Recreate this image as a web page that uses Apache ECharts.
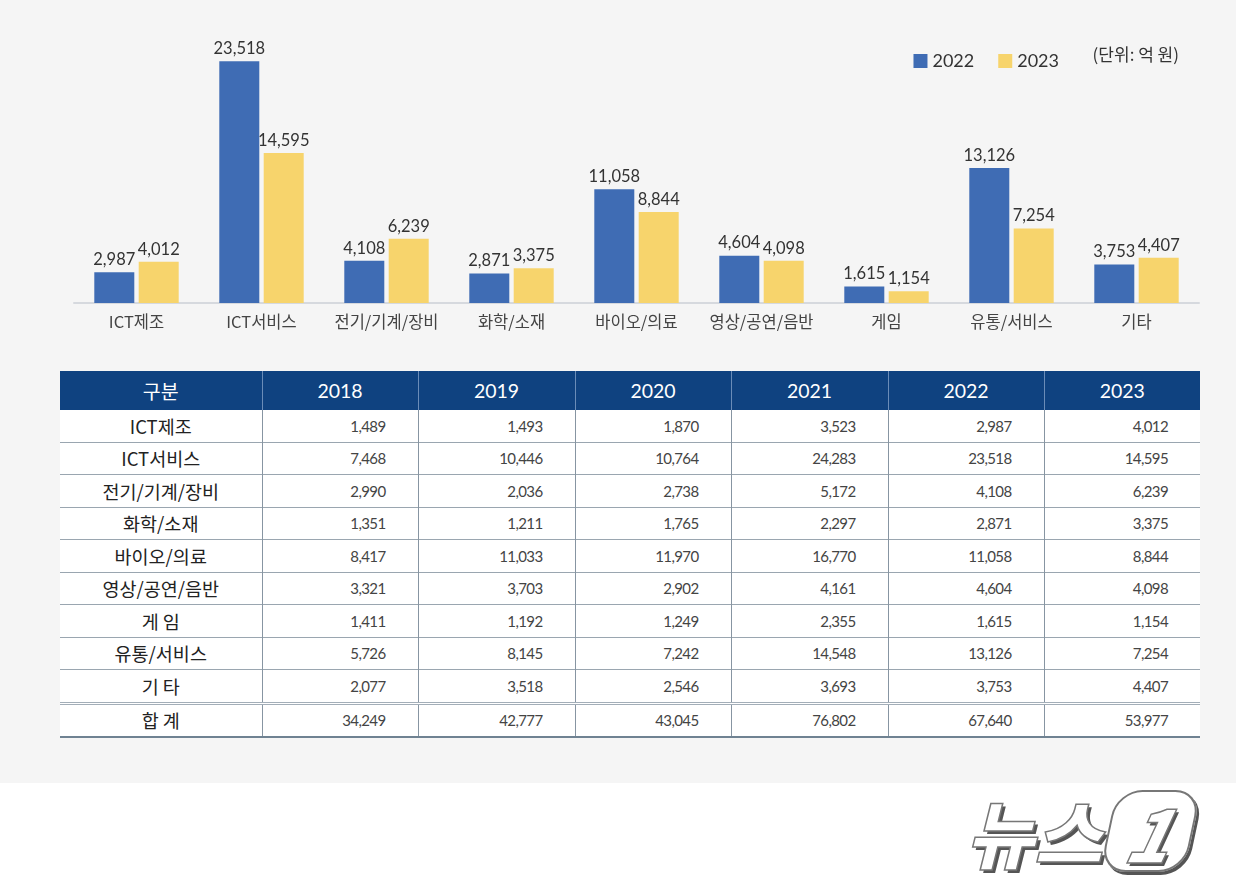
<!DOCTYPE html>
<html><head><meta charset="utf-8">
<script src="https://cdn.jsdelivr.net/npm/echarts@6/dist/echarts.min.js"></script>
<style>
html,body{margin:0;padding:0;width:1236px;height:896px;background:#fff;overflow:hidden;font-family:Lato,"Noto Sans CJK KR",sans-serif;}
#bg{position:absolute;left:0;top:0;width:1236px;height:783px;background:#f5f5f5;}
#chart{position:absolute;left:0;top:0;width:1236px;height:360px;}
#tbl{position:absolute;left:60px;top:371px;width:1140px;border-collapse:collapse;table-layout:fixed;}
#tbl th{background:#0f4280;color:#fff;font-weight:normal;font-size:19.5px;height:39px;padding:0;border-left:1px solid #6a8cb8;font-family:Lato,"Noto Sans CJK KR",sans-serif;}
#tbl th:first-child{border-left:none;}
#tbl td{background:#fff;height:31.5px;padding:0;border-top:1px solid #9aa6b0;border-left:1px solid #8795a2;font-size:15px;color:#444;text-align:right;padding-right:32px;letter-spacing:-0.6px;font-family:Lato,sans-serif;}
#tbl td.c{text-align:center;padding-right:0;font-size:18.5px;color:#222;letter-spacing:0;border-left:none;font-family:"Noto Sans CJK KR",sans-serif;}
#tbl tr:first-child td{border-top:none;}
#tbl tr.tot td{border-top:3px double #a3aeb8;}
#tbl tbody tr:last-child td{border-bottom:2px solid #6f8292;}
#logo{position:absolute;left:966px;top:786px;font-family:"Noto Sans CJK KR",sans-serif;font-weight:900;font-style:italic;font-size:74px;line-height:90px;color:#fff;-webkit-text-stroke:1.5px #777;text-shadow:3px 3px 0 #555;letter-spacing:0px;}
#logo span{display:inline-block;margin-left:6px;padding:0 18px;border:2px solid #777;border-radius:26px;box-shadow:3px 3px 0 #555;transform:skewX(-12deg);line-height:78px;}
</style></head>
<body>
<div id="bg"></div>
<div id="chart"></div>
<table id="tbl"><colgroup id="cg"></colgroup><thead><tr id="hdr"></tr></thead><tbody id="body"></tbody></table>
<div id="logo">뉴스<span>1</span></div>
<script>
// Bar chart data
const categories = ['ICT제조','ICT서비스','전기/기계/장비','화학/소재','바이오/의료','영상/공연/음반','게임','유통/서비스','기타'];
const seriesNames = ['2022','2023'];
const values2022 = [2987,23518,4108,2871,11058,4604,1615,13126,3753];
const values2023 = [4012,14595,6239,3375,8844,4098,1154,7254,4407];
const unitLabel = '(단위: 억 원)';

// Table data
const tableHeader = ['구분','2018','2019','2020','2021','2022','2023'];
const tableRows = ['ICT제조','ICT서비스','전기/기계/장비','화학/소재','바이오/의료','영상/공연/음반','게 임','유통/서비스','기 타','합 계'];
const col2018 = [1489,7468,2990,1351,8417,3321,1411,5726,2077,34249];
const col2019 = [1493,10446,2036,1211,11033,3703,1192,8145,3518,42777];
const col2020 = [1870,10764,2738,1765,11970,2902,1249,7242,2546,43045];
const col2021 = [3523,24283,5172,2297,16770,4161,2355,14548,3693,76802];
const col2022 = [2987,23518,4108,2871,11058,4604,1615,13126,3753,67640];
const col2023 = [4012,14595,6239,3375,8844,4098,1154,7254,4407,53977];

const fmt = v => v.toLocaleString('en-US');

// build table
const cg = document.getElementById('cg');
const widths = [202,156,157,156,157,156,156];
widths.forEach(w=>{const c=document.createElement('col');c.style.width=w+'px';cg.appendChild(c);});
const hdr = document.getElementById('hdr');
tableHeader.forEach(h=>{const th=document.createElement('th');th.textContent=h;hdr.appendChild(th);});
const cols = [col2018,col2019,col2020,col2021,col2022,col2023];
const body = document.getElementById('body');
tableRows.forEach((r,ri)=>{
  const tr=document.createElement('tr');
  if(ri===tableRows.length-1) tr.className='tot';
  const td0=document.createElement('td');td0.className='c';td0.textContent=r;tr.appendChild(td0);
  cols.forEach(c=>{const td=document.createElement('td');td.textContent=fmt(c[ri]);tr.appendChild(td);});
  body.appendChild(tr);
});

const chart = echarts.init(document.getElementById('chart'));
const lbl = {show:true,position:'top',distance:4,color:'#333',fontSize:16.5,fontFamily:'Lato',formatter:p=>fmt(p.value)};
chart.setOption({
  animation:false,
  textStyle:{fontFamily:'Lato, "Noto Sans CJK KR", sans-serif'},
  legend:{right:172,top:47,itemWidth:14,itemHeight:14,itemGap:24,itemTextGap:7,icon:'rect',
    textStyle:{fontSize:18,color:'#333',fontFamily:'Lato'},data:seriesNames},
  graphic:[{type:'text',right:57,top:46,style:{text:unitLabel,fontSize:17,fill:'#333',fontFamily:'"Noto Sans CJK KR"'}}],
  grid:{left:74,right:37,top:46,height:257},
  xAxis:{type:'category',data:categories,
    axisLine:{lineStyle:{color:'#d6d9de',width:2}},axisTick:{show:false},
    axisLabel:{interval:0,hideOverlap:false,color:'#444',fontSize:16.5,margin:10,fontFamily:'"Noto Sans CJK KR"'}},
  yAxis:{type:'value',min:0,max:25000,show:false,splitLine:{show:false}},
  series:[
    {name:seriesNames[0],type:'bar',data:values2022,barWidth:40,barGap:'11%',itemStyle:{color:'#3f6cb4'},label:lbl},
    {name:seriesNames[1],type:'bar',data:values2023,barWidth:40,itemStyle:{color:'#f7d46c'},label:lbl}
  ]
});
</script>
</body></html>
